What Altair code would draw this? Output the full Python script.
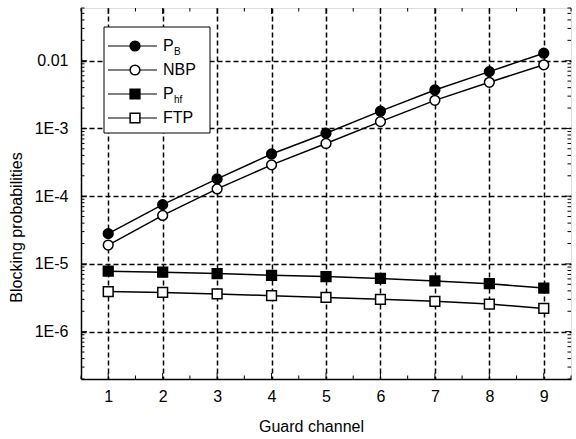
import altair as alt
import pandas as pd

# ---- data ----
guard = [1, 2, 3, 4, 5, 6, 7, 8, 9]
series_names = ["PB", "NBP", "Phf", "FTP"]
pb = [2.8e-5, 7.5e-5, 1.8e-4, 4.2e-4, 8.5e-4, 1.8e-3, 3.7e-3, 6.9e-3, 1.29e-2]
nbp = [1.9e-5, 5.2e-5, 1.28e-4, 2.9e-4, 6.0e-4, 1.26e-3, 2.6e-3, 4.8e-3, 8.7e-3]
phf = [7.8e-6, 7.55e-6, 7.2e-6, 6.8e-6, 6.5e-6, 6.1e-6, 5.6e-6, 5.1e-6, 4.4e-6]
ftp = [3.9e-6, 3.8e-6, 3.6e-6, 3.4e-6, 3.2e-6, 3.0e-6, 2.8e-6, 2.55e-6, 2.2e-6]

y_major = [1e-6, 1e-5, 1e-4, 1e-3, 1e-2]
x_major = guard
x_minor = [0.5, 1.5, 2.5, 3.5, 4.5, 5.5, 6.5, 7.5, 8.5, 9.5]
y_minor = [k * 10.0 ** e for e in range(-7, -1) for k in range(2, 10)]
y_minor = [v for v in y_minor if 2e-7 <= v <= 0.06]

legend_main = ["P", "NBP", "P", "FTP"]
legend_sub = ["B", "", "hf", ""]
fills = ["black", "white", "black", "white"]
shapes = ["circle", "circle", "square", "square"]

FONT = "Liberation Sans"
W, H = 490, 371

rows = []
for name, vals in zip(series_names, [pb, nbp, phf, ftp]):
    for g, v in zip(guard, vals):
        rows.append({"x": g, "y": v, "series": name})
df = pd.DataFrame(rows)

xscale = alt.Scale(domain=[0.5, 9.5], nice=False, zero=False)
yscale = alt.Scale(type="log", domain=[2e-7, 0.06], nice=False)

common_axis = dict(
    grid=True, gridDash=[5, 3], gridColor="black", gridWidth=1.5, gridOpacity=1,
    domainColor="black", domainWidth=1.5, ticks=False, tickSize=0,
    labelFont=FONT, labelFontSize=16, labelColor="black",
    titleFont=FONT, titleFontSize=16, titleColor="black", titleFontWeight="normal",
)
xaxis = alt.Axis(values=x_major, format="d", title="Guard channel", labelPadding=9,
                 titleX=230, titleY=47, titleBaseline="middle", **common_axis)
yaxis = alt.Axis(values=y_major, title="Blocking probabilities", labelPadding=13,
                 labelExpr="datum.value >= 0.005 ? '0.01' : '1E' + round(log(datum.value) / LN10)",
                 titleX=-65, titleY=219, titleAlign="center", titleBaseline="middle",
                 titleAngle=-90, **common_axis)

X = alt.X("x:Q", scale=xscale, axis=xaxis)
Y = alt.Y("y:Q", scale=yscale, axis=yaxis)

lines = alt.Chart(df).mark_line(color="black", strokeWidth=1.5).encode(x=X, y=Y, detail="series:N")
points = alt.Chart(df).mark_point(filled=True, size=95, stroke="black", strokeWidth=1.5, opacity=1).encode(
    x=X, y=Y,
    fill=alt.Fill("series:N", scale=alt.Scale(domain=series_names, range=fills), legend=None),
    shape=alt.Shape("series:N", scale=alt.Scale(domain=series_names, range=shapes), legend=None),
)

# inner ticks
def ytick_layer(vals, length):
    d = pd.DataFrame({"y": vals})
    left = alt.Chart(d).mark_rule(color="black", strokeWidth=1).encode(
        y=Y, x=alt.value(0), x2=alt.value(length))
    right = alt.Chart(d).mark_rule(color="black", strokeWidth=1).encode(
        y=Y, x=alt.value(W - length), x2=alt.value(W))
    return [left, right]

def xtick_layer(vals, length):
    d = pd.DataFrame({"x": vals})
    bottom = alt.Chart(d).mark_rule(color="black", strokeWidth=1).encode(
        x=X, y=alt.value(H - length), y2=alt.value(H))
    top = alt.Chart(d).mark_rule(color="black", strokeWidth=1).encode(
        x=X, y=alt.value(0), y2=alt.value(length))
    return [bottom, top]

ticks = ytick_layer(y_major, 6) + ytick_layer(y_minor, 3.5) + xtick_layer(x_major, 6) + xtick_layer(x_minor, 3.5)

# custom legend (with subscripts)
one = pd.DataFrame({"a": [0]})
box_l, box_r, box_t, box_b = 23, 129, 19, 125
legend_layers = [
    alt.Chart(one).mark_rect(fill="white", stroke="black", strokeWidth=1).encode(
        x=alt.value(box_l), x2=alt.value(box_r), y=alt.value(box_t), y2=alt.value(box_b))
]
row_y0, row_dy = 38, 24
for i in range(4):
    ry = row_y0 + i * row_dy
    legend_layers.append(alt.Chart(one).mark_rule(color="black", strokeWidth=1).encode(
        x=alt.value(27), x2=alt.value(76), y=alt.value(ry)))
    legend_layers.append(alt.Chart(one).mark_point(
        filled=True, size=95, shape=shapes[i], fill=fills[i], stroke="black",
        strokeWidth=1.5, opacity=1).encode(x=alt.value(54), y=alt.value(ry)))
    legend_layers.append(alt.Chart(one).mark_text(
        text=legend_main[i], font=FONT, fontSize=16, align="left", baseline="middle",
        color="black").encode(x=alt.value(82), y=alt.value(ry)))
    if legend_sub[i]:
        legend_layers.append(alt.Chart(one).mark_text(
            text=legend_sub[i], font=FONT, fontSize=10, align="left", baseline="middle",
            color="black").encode(x=alt.value(93), y=alt.value(ry + 6)))

chart = alt.layer(*ticks, lines, points, *legend_layers).properties(
    width=W, height=H,
    autosize=alt.AutoSizeParams(type="none"),
    padding={"left": 81, "top": 8, "right": 5, "bottom": 60},
).configure_view(stroke="black", strokeWidth=1.5).configure(background="white")

chart.save("out.html", embed_options={"renderer": "svg", "actions": False})
